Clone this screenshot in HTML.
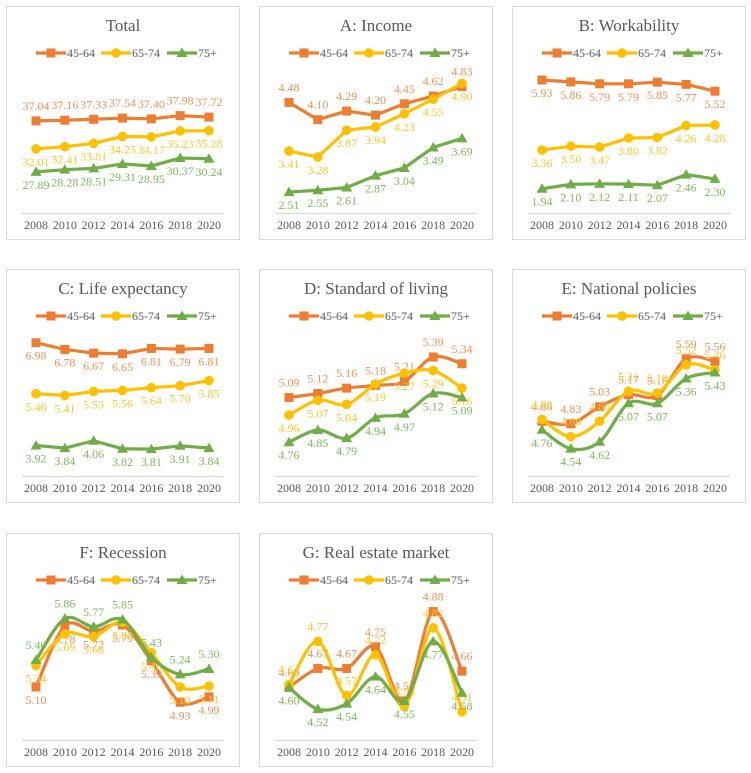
<!DOCTYPE html>
<html><head><meta charset="utf-8">
<style>
html,body{margin:0;padding:0;background:#fff;}
body{width:751px;height:773px;position:relative;overflow:hidden;font-family:"Liberation Serif",serif;}
svg{position:absolute;left:0;top:0;}
</style></head>
<body>
<svg id="chart" width="751" height="773" viewBox="0 0 751 773"></svg>
<script>
const years = ["2008","2010","2012","2014","2016","2018","2020"];
const seriesNames = ["45-64","65-74","75+"];

const totalTitle = "Total";
const total4564 = [37.04,37.16,37.33,37.54,37.40,37.98,37.72];
const total6574 = [32.01,32.41,33.01,34.25,34.17,35.23,35.28];
const total75 = [27.89,28.28,28.51,29.31,28.95,30.37,30.24];

const incomeTitle = "A: Income";
const income4564 = [4.48,4.10,4.29,4.20,4.45,4.62,4.83];
const income6574 = [3.41,3.28,3.87,3.94,4.23,4.55,4.90];
const income75 = [2.51,2.55,2.61,2.87,3.04,3.49,3.69];

const workTitle = "B: Workability";
const work4564 = [5.93,5.86,5.79,5.79,5.85,5.77,5.52];
const work6574 = [3.36,3.50,3.47,3.80,3.82,4.26,4.28];
const work75 = [1.94,2.10,2.12,2.11,2.07,2.46,2.30];

const lifeTitle = "C: Life expectancy";
const life4564 = [6.98,6.78,6.67,6.65,6.81,6.79,6.81];
const life6574 = [5.46,5.41,5.53,5.56,5.64,5.70,5.85];
const life75 = [3.92,3.84,4.06,3.82,3.81,3.91,3.84];

const livingTitle = "D: Standard of living";
const living4564 = [5.09,5.12,5.16,5.18,5.21,5.39,5.34];
const living6574 = [4.96,5.07,5.04,5.19,5.27,5.29,5.16];
const living75 = [4.76,4.85,4.79,4.94,4.97,5.12,5.09];

const policyTitle = "E: National policies";
const policy4564 = [4.86,4.83,5.03,5.17,5.16,5.59,5.56];
const policy6574 = [4.88,4.68,4.86,5.21,5.19,5.52,5.46];
const policy75 = [4.76,4.54,4.62,5.07,5.07,5.36,5.43];

const recessTitle = "F: Recession";
const recess4564 = [5.10,5.78,5.72,5.79,5.39,4.93,4.99];
const recess6574 = [5.34,5.69,5.66,5.82,5.48,5.10,5.11];
const recess75 = [5.40,5.86,5.77,5.85,5.43,5.24,5.30];

const estateTitle = "G: Real estate market";
const estate4564 = [4.60,4.67,4.67,4.75,4.55,4.88,4.66];
const estate6574 = [4.61,4.77,4.57,4.72,4.53,4.82,4.51];
const estate75 = [4.60,4.52,4.54,4.64,4.55,4.77,4.58];

const NS = "http://www.w3.org/2000/svg";
const svg = document.getElementById("chart");
const colors = ["#ED7D31","#FFC000","#70AD47"];
const labelColors = ["#F0915A","#FFC72C","#80B85E"];

const panels = [
 {name:"total",title:totalTitle,data:[total4564,total6574,total75],x:6,y:6,ymin:20.5,ymax:46,smooth:false,pos:[-1,1,1]},
 {name:"income",title:incomeTitle,data:[income4564,income6574,income75],x:259,y:6,ymin:2.05,ymax:5.17,smooth:false,pos:[-1,1,1]},
 {name:"workability",title:workTitle,data:[work4564,work6574,work75],x:512,y:6,ymin:1.05,ymax:6.26,smooth:false,pos:[1,1,1]},
 {name:"life-expectancy",title:lifeTitle,data:[life4564,life6574,life75],x:6,y:269,ymin:3.01,ymax:7.24,smooth:false,pos:[1,1,1]},
 {name:"standard-of-living",title:livingTitle,data:[living4564,living6574,living75],x:259,y:269,ymin:4.51,ymax:5.56,smooth:true,pos:[-1,1,1]},
 {name:"national-policies",title:policyTitle,data:[policy4564,policy6574,policy75],x:512,y:269,ymin:4.22,ymax:5.88,smooth:true,pos:[-1,-1,1]},
 {name:"recession",title:recessTitle,data:[recess4564,recess6574,recess75],x:6,y:533,ymin:4.51,ymax:6.09,smooth:true,pos:[1,1,-1]},
 {name:"real-estate",title:estateTitle,data:[estate4564,estate6574,estate75],x:259,y:533,ymin:4.406,ymax:4.93,smooth:true,pos:[-1,-1,1]}
];

function mk(tag, attrs, parent){
  const e = document.createElementNS(NS, tag);
  for (const k in attrs) e.setAttribute(k, attrs[k]);
  parent.appendChild(e);
  return e;
}
function marker(g, kind, cx, cy, color){
  let m;
  if (kind===0) m = mk("rect",{x:cx-4.5,y:cy-4.5,width:9,height:9,fill:color},g);
  else if (kind===1) m = mk("circle",{cx:cx,cy:cy,r:4.8,fill:color},g);
  else m = mk("polygon",{points:`${cx},${cy-5.5} ${cx+5.5},${cy+4} ${cx-5.5},${cy+4}`,fill:color},g);
  return m;
}
function pathD(pts, smooth){
  let d = `M${pts[0][0]},${pts[0][1]}`;
  for (let i=1;i<pts.length;i++){
    if (!smooth){ d += ` L${pts[i][0]},${pts[i][1]}`; continue; }
    const p0 = pts[Math.max(0,i-2)], p1 = pts[i-1], p2 = pts[i], p3 = pts[Math.min(pts.length-1,i+1)];
    const t = 1/6;
    const c1 = [p1[0]+(p2[0]-p0[0])*t, p1[1]+(p2[1]-p0[1])*t];
    const c2 = [p2[0]-(p3[0]-p1[0])*t, p2[1]-(p3[1]-p1[1])*t];
    d += ` C${c1[0]},${c1[1]} ${c2[0]},${c2[1]} ${p2[0]},${p2[1]}`;
  }
  return d;
}

panels.forEach(p=>{
  const g = mk("g",{transform:`translate(${p.x},${p.y})`},svg);
  
  
  const border = mk("rect",{x:0.5,y:0.5,width:233,height:233,fill:"#fff",stroke:"#D9D9D9","stroke-width":1},g);
  
  
  const title = mk("text",{x:117,y:25,"text-anchor":"middle","font-size":"17","fill":"#595959"},g);
  title.textContent = p.title;
  
  
  // legend
  const lx = [30, 95, 161];
  seriesNames.forEach((s,i)=>{
    const lg = mk("g",{},g);
    
    
    mk("line",{x1:lx[i],y1:47,x2:lx[i]+30,y2:47,stroke:colors[i],"stroke-width":3.2},lg);
    marker(lg,i,lx[i]+15,47,colors[i]);
    const t = mk("text",{x:lx[i]+31,y:51,"font-size":"12","fill":"#595959"},lg);
    t.textContent = s;
  });
  // axis
  const x0 = 30, x1 = 203, yTop = 65, yBot = 207;
  const xs = i => x0 + (x1-x0)*i/(years.length-1);
  const ys = v => yBot - (v-p.ymin)/(p.ymax-p.ymin)*(yBot-yTop);
  const ax = mk("line",{x1:16,y1:yBot+0.5,x2:218,y2:yBot+0.5,stroke:"#D9D9D9","stroke-width":1.2},g);
  
  
  years.forEach((yr,i)=>{
    const t = mk("text",{x:xs(i),y:223,"text-anchor":"middle","font-size":"12","fill":"#595959"},g);
    t.textContent = yr;
    
    
  });
  p.data.forEach((vals,si)=>{
    const pts = vals.map((v,i)=>[xs(i), ys(v)]);
    const line = mk("path",{d:pathD(pts,p.smooth),fill:"none",stroke:colors[si],"stroke-width":3.2,"stroke-linejoin":"round"},g);
    
    
    pts.forEach((pt,i)=>{
      const m = marker(g,si,pt[0],pt[1],colors[si]);
      
      
      const dy = p.pos[si] < 0 ? -11 : 17;
      const t = mk("text",{x:pt[0],y:pt[1]+dy,"text-anchor":"middle","font-size":"12","fill":labelColors[si]},g);
      t.textContent = vals[i].toFixed(2);
      
      
    });
  });
});
</script>
</body></html>
